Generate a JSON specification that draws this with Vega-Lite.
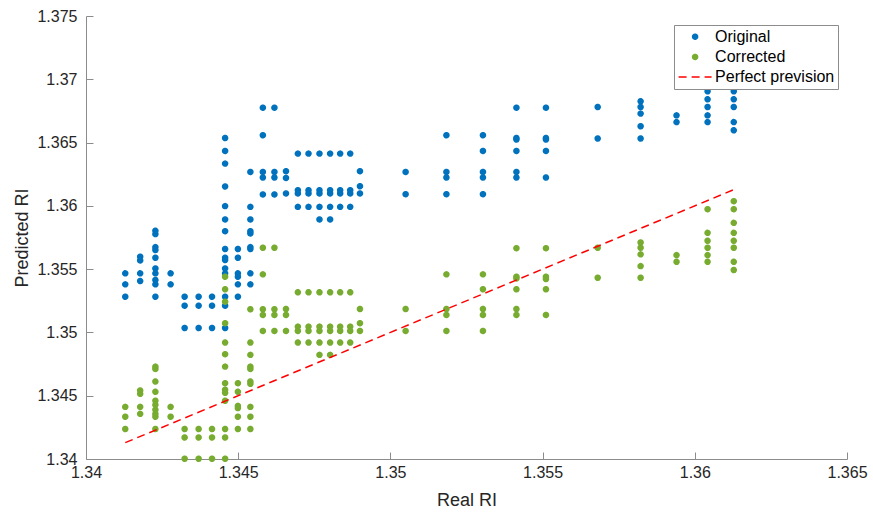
{
  "$schema": "https://vega.github.io/schema/vega-lite/v6.json",
  "autosize": "none",
  "width": 761,
  "height": 443,
  "padding": {"left": 86, "top": 16, "right": 26, "bottom": 57},
  "background": "white",
  "config": {
    "view": {"stroke": null},
    "font": "Liberation Sans",
    "axis": {
      "grid": false,
      "domainColor": "#8c8c8c",
      "tickColor": "#8c8c8c",
      "tickSize": -7,
      "labelColor": "#262626",
      "titleColor": "#262626",
      "labelFontSize": 16,
      "titleFontSize": 18,
      "titleFontWeight": "normal",
      "labelFont": "Liberation Sans",
      "titleFont": "Liberation Sans"
    },
    "legend": {
      "orient": "top-right",
      "offset": 9,
      "padding": 3.7,
      "fillColor": "white",
      "strokeColor": "#8c8c8c",
      "labelFontSize": 16,
      "labelColor": "#000000",
      "labelFont": "Liberation Sans",
      "symbolSize": 25,
      "symbolOffset": 9.4,
      "labelOffset": 12,
      "rowPadding": 4.2,
      "symbolStrokeWidth": 1.5
    }
  },
  "datasets": {
    "pts": [
      {"real":1.34129,"pred":1.35467,"set":"Original"},{"real":1.34129,"pred":1.35380,"set":"Original"},{"real":1.34129,"pred":1.35282,"set":"Original"},
      {"real":1.34178,"pred":1.35598,"set":"Original"},{"real":1.34178,"pred":1.35569,"set":"Original"},{"real":1.34178,"pred":1.35467,"set":"Original"},{"real":1.34178,"pred":1.35406,"set":"Original"},
      {"real":1.34228,"pred":1.35803,"set":"Original"},{"real":1.34228,"pred":1.35777,"set":"Original"},{"real":1.34228,"pred":1.35674,"set":"Original"},{"real":1.34228,"pred":1.35651,"set":"Original"},{"real":1.34228,"pred":1.35590,"set":"Original"},{"real":1.34228,"pred":1.35506,"set":"Original"},{"real":1.34228,"pred":1.35467,"set":"Original"},{"real":1.34228,"pred":1.35414,"set":"Original"},{"real":1.34228,"pred":1.35380,"set":"Original"},{"real":1.34228,"pred":1.35282,"set":"Original"},
      {"real":1.34278,"pred":1.35467,"set":"Original"},{"real":1.34278,"pred":1.35380,"set":"Original"},
      {"real":1.34324,"pred":1.35282,"set":"Original"},{"real":1.34324,"pred":1.35211,"set":"Original"},{"real":1.34324,"pred":1.35035,"set":"Original"},
      {"real":1.34370,"pred":1.35282,"set":"Original"},{"real":1.34370,"pred":1.35211,"set":"Original"},{"real":1.34370,"pred":1.35035,"set":"Original"},
      {"real":1.34414,"pred":1.35282,"set":"Original"},{"real":1.34414,"pred":1.35211,"set":"Original"},{"real":1.34414,"pred":1.35035,"set":"Original"},
      {"real":1.34457,"pred":1.36536,"set":"Original"},{"real":1.34457,"pred":1.36434,"set":"Original"},{"real":1.34457,"pred":1.36334,"set":"Original"},{"real":1.34457,"pred":1.36153,"set":"Original"},{"real":1.34457,"pred":1.35998,"set":"Original"},{"real":1.34457,"pred":1.35893,"set":"Original"},{"real":1.34457,"pred":1.35800,"set":"Original"},{"real":1.34457,"pred":1.35659,"set":"Original"},{"real":1.34457,"pred":1.35590,"set":"Original"},{"real":1.34457,"pred":1.35572,"set":"Original"},{"real":1.34457,"pred":1.35506,"set":"Original"},{"real":1.34457,"pred":1.35467,"set":"Original"},{"real":1.34457,"pred":1.35282,"set":"Original"},{"real":1.34457,"pred":1.35211,"set":"Original"},{"real":1.34457,"pred":1.35035,"set":"Original"},
      {"real":1.34499,"pred":1.35659,"set":"Original"},{"real":1.34499,"pred":1.35590,"set":"Original"},{"real":1.34499,"pred":1.35467,"set":"Original"},{"real":1.34499,"pred":1.35440,"set":"Original"},{"real":1.34499,"pred":1.35380,"set":"Original"},{"real":1.34499,"pred":1.35282,"set":"Original"},
      {"real":1.34540,"pred":1.36268,"set":"Original"},{"real":1.34540,"pred":1.35992,"set":"Original"},{"real":1.34540,"pred":1.35893,"set":"Original"},{"real":1.34540,"pred":1.35800,"set":"Original"},{"real":1.34540,"pred":1.35782,"set":"Original"},{"real":1.34540,"pred":1.35674,"set":"Original"},{"real":1.34540,"pred":1.35659,"set":"Original"},{"real":1.34540,"pred":1.35467,"set":"Original"},{"real":1.34540,"pred":1.35380,"set":"Original"},
      {"real":1.34581,"pred":1.36776,"set":"Original"},{"real":1.34581,"pred":1.36558,"set":"Original"},{"real":1.34581,"pred":1.36268,"set":"Original"},{"real":1.34581,"pred":1.36224,"set":"Original"},{"real":1.34581,"pred":1.36090,"set":"Original"},
      {"real":1.34619,"pred":1.36776,"set":"Original"},{"real":1.34619,"pred":1.36268,"set":"Original"},{"real":1.34619,"pred":1.36224,"set":"Original"},{"real":1.34619,"pred":1.36090,"set":"Original"},
      {"real":1.34657,"pred":1.36274,"set":"Original"},{"real":1.34657,"pred":1.36221,"set":"Original"},{"real":1.34657,"pred":1.36098,"set":"Original"},
      {"real":1.34696,"pred":1.36413,"set":"Original"},{"real":1.34696,"pred":1.36124,"set":"Original"},{"real":1.34696,"pred":1.36098,"set":"Original"},{"real":1.34696,"pred":1.35992,"set":"Original"},
      {"real":1.34731,"pred":1.36413,"set":"Original"},{"real":1.34731,"pred":1.36124,"set":"Original"},{"real":1.34731,"pred":1.36098,"set":"Original"},{"real":1.34731,"pred":1.35992,"set":"Original"},
      {"real":1.34767,"pred":1.36413,"set":"Original"},{"real":1.34767,"pred":1.36124,"set":"Original"},{"real":1.34767,"pred":1.36098,"set":"Original"},{"real":1.34767,"pred":1.35992,"set":"Original"},{"real":1.34767,"pred":1.35893,"set":"Original"},
      {"real":1.34802,"pred":1.36413,"set":"Original"},{"real":1.34802,"pred":1.36124,"set":"Original"},{"real":1.34802,"pred":1.36098,"set":"Original"},{"real":1.34802,"pred":1.35992,"set":"Original"},{"real":1.34802,"pred":1.35893,"set":"Original"},
      {"real":1.34835,"pred":1.36413,"set":"Original"},{"real":1.34835,"pred":1.36124,"set":"Original"},{"real":1.34835,"pred":1.36098,"set":"Original"},{"real":1.34835,"pred":1.35992,"set":"Original"},
      {"real":1.34868,"pred":1.36413,"set":"Original"},{"real":1.34868,"pred":1.36124,"set":"Original"},{"real":1.34868,"pred":1.36098,"set":"Original"},{"real":1.34868,"pred":1.35992,"set":"Original"},
      {"real":1.34900,"pred":1.36274,"set":"Original"},{"real":1.34900,"pred":1.36155,"set":"Original"},{"real":1.34900,"pred":1.36098,"set":"Original"},
      {"real":1.35050,"pred":1.36268,"set":"Original"},{"real":1.35050,"pred":1.36092,"set":"Original"},
      {"real":1.35184,"pred":1.36558,"set":"Original"},{"real":1.35184,"pred":1.36268,"set":"Original"},{"real":1.35184,"pred":1.36224,"set":"Original"},{"real":1.35184,"pred":1.36092,"set":"Original"},
      {"real":1.35304,"pred":1.36558,"set":"Original"},{"real":1.35304,"pred":1.36434,"set":"Original"},{"real":1.35304,"pred":1.36268,"set":"Original"},{"real":1.35304,"pred":1.36224,"set":"Original"},{"real":1.35304,"pred":1.36092,"set":"Original"},
      {"real":1.35414,"pred":1.36776,"set":"Original"},{"real":1.35414,"pred":1.36536,"set":"Original"},{"real":1.35414,"pred":1.36524,"set":"Original"},{"real":1.35414,"pred":1.36434,"set":"Original"},{"real":1.35414,"pred":1.36268,"set":"Original"},{"real":1.35414,"pred":1.36224,"set":"Original"},
      {"real":1.35511,"pred":1.36776,"set":"Original"},{"real":1.35511,"pred":1.36536,"set":"Original"},{"real":1.35511,"pred":1.36524,"set":"Original"},{"real":1.35511,"pred":1.36434,"set":"Original"},{"real":1.35511,"pred":1.36224,"set":"Original"},
      {"real":1.35681,"pred":1.36781,"set":"Original"},{"real":1.35681,"pred":1.36532,"set":"Original"},
      {"real":1.35822,"pred":1.36826,"set":"Original"},{"real":1.35822,"pred":1.36781,"set":"Original"},{"real":1.35822,"pred":1.36729,"set":"Original"},{"real":1.35822,"pred":1.36629,"set":"Original"},{"real":1.35822,"pred":1.36532,"set":"Original"},
      {"real":1.35940,"pred":1.36715,"set":"Original"},{"real":1.35940,"pred":1.36662,"set":"Original"},
      {"real":1.36042,"pred":1.36905,"set":"Original"},{"real":1.36042,"pred":1.36842,"set":"Original"},{"real":1.36042,"pred":1.36781,"set":"Original"},{"real":1.36042,"pred":1.36715,"set":"Original"},{"real":1.36042,"pred":1.36662,"set":"Original"},
      {"real":1.36128,"pred":1.36905,"set":"Original"},{"real":1.36128,"pred":1.36842,"set":"Original"},{"real":1.36128,"pred":1.36781,"set":"Original"},{"real":1.36128,"pred":1.36662,"set":"Original"},{"real":1.36128,"pred":1.36597,"set":"Original"},

      {"real":1.34129,"pred":1.34412,"set":"Corrected"},{"real":1.34129,"pred":1.34334,"set":"Corrected"},{"real":1.34129,"pred":1.34237,"set":"Corrected"},
      {"real":1.34178,"pred":1.34541,"set":"Corrected"},{"real":1.34178,"pred":1.34515,"set":"Corrected"},{"real":1.34178,"pred":1.34412,"set":"Corrected"},{"real":1.34178,"pred":1.34357,"set":"Corrected"},
      {"real":1.34228,"pred":1.34730,"set":"Corrected"},{"real":1.34228,"pred":1.34712,"set":"Corrected"},{"real":1.34228,"pred":1.34612,"set":"Corrected"},{"real":1.34228,"pred":1.34531,"set":"Corrected"},{"real":1.34228,"pred":1.34460,"set":"Corrected"},{"real":1.34228,"pred":1.34428,"set":"Corrected"},{"real":1.34228,"pred":1.34389,"set":"Corrected"},{"real":1.34228,"pred":1.34357,"set":"Corrected"},{"real":1.34228,"pred":1.34334,"set":"Corrected"},{"real":1.34228,"pred":1.34237,"set":"Corrected"},
      {"real":1.34278,"pred":1.34412,"set":"Corrected"},{"real":1.34278,"pred":1.34334,"set":"Corrected"},
      {"real":1.34324,"pred":1.34237,"set":"Corrected"},{"real":1.34324,"pred":1.34170,"set":"Corrected"},{"real":1.34324,"pred":1.34002,"set":"Corrected"},
      {"real":1.34370,"pred":1.34237,"set":"Corrected"},{"real":1.34370,"pred":1.34170,"set":"Corrected"},{"real":1.34370,"pred":1.34002,"set":"Corrected"},
      {"real":1.34414,"pred":1.34237,"set":"Corrected"},{"real":1.34414,"pred":1.34170,"set":"Corrected"},{"real":1.34414,"pred":1.34002,"set":"Corrected"},
      {"real":1.34457,"pred":1.35440,"set":"Corrected"},{"real":1.34457,"pred":1.35341,"set":"Corrected"},{"real":1.34457,"pred":1.35243,"set":"Corrected"},{"real":1.34457,"pred":1.35073,"set":"Corrected"},{"real":1.34457,"pred":1.34920,"set":"Corrected"},{"real":1.34457,"pred":1.34828,"set":"Corrected"},{"real":1.34457,"pred":1.34730,"set":"Corrected"},{"real":1.34457,"pred":1.34599,"set":"Corrected"},{"real":1.34457,"pred":1.34547,"set":"Corrected"},{"real":1.34457,"pred":1.34523,"set":"Corrected"},{"real":1.34457,"pred":1.34460,"set":"Corrected"},{"real":1.34457,"pred":1.34237,"set":"Corrected"},{"real":1.34457,"pred":1.34170,"set":"Corrected"},{"real":1.34457,"pred":1.34002,"set":"Corrected"},
      {"real":1.34499,"pred":1.34599,"set":"Corrected"},{"real":1.34499,"pred":1.34531,"set":"Corrected"},{"real":1.34499,"pred":1.34420,"set":"Corrected"},{"real":1.34499,"pred":1.34402,"set":"Corrected"},{"real":1.34499,"pred":1.34334,"set":"Corrected"},{"real":1.34499,"pred":1.34237,"set":"Corrected"},
      {"real":1.34540,"pred":1.35183,"set":"Corrected"},{"real":1.34540,"pred":1.34920,"set":"Corrected"},{"real":1.34540,"pred":1.34823,"set":"Corrected"},{"real":1.34540,"pred":1.34730,"set":"Corrected"},{"real":1.34540,"pred":1.34712,"set":"Corrected"},{"real":1.34540,"pred":1.34612,"set":"Corrected"},{"real":1.34540,"pred":1.34594,"set":"Corrected"},{"real":1.34540,"pred":1.34412,"set":"Corrected"},{"real":1.34540,"pred":1.34334,"set":"Corrected"},{"real":1.34540,"pred":1.34237,"set":"Corrected"},
      {"real":1.34581,"pred":1.35669,"set":"Corrected"},{"real":1.34581,"pred":1.35459,"set":"Corrected"},{"real":1.34581,"pred":1.35183,"set":"Corrected"},{"real":1.34581,"pred":1.35138,"set":"Corrected"},{"real":1.34581,"pred":1.35012,"set":"Corrected"},
      {"real":1.34619,"pred":1.35669,"set":"Corrected"},{"real":1.34619,"pred":1.35183,"set":"Corrected"},{"real":1.34619,"pred":1.35138,"set":"Corrected"},{"real":1.34619,"pred":1.35012,"set":"Corrected"},
      {"real":1.34657,"pred":1.35185,"set":"Corrected"},{"real":1.34657,"pred":1.35138,"set":"Corrected"},{"real":1.34657,"pred":1.35012,"set":"Corrected"},
      {"real":1.34696,"pred":1.35317,"set":"Corrected"},{"real":1.34696,"pred":1.35046,"set":"Corrected"},{"real":1.34696,"pred":1.35012,"set":"Corrected"},{"real":1.34696,"pred":1.34920,"set":"Corrected"},
      {"real":1.34731,"pred":1.35317,"set":"Corrected"},{"real":1.34731,"pred":1.35046,"set":"Corrected"},{"real":1.34731,"pred":1.35012,"set":"Corrected"},{"real":1.34731,"pred":1.34920,"set":"Corrected"},
      {"real":1.34767,"pred":1.35317,"set":"Corrected"},{"real":1.34767,"pred":1.35046,"set":"Corrected"},{"real":1.34767,"pred":1.35012,"set":"Corrected"},{"real":1.34767,"pred":1.34920,"set":"Corrected"},{"real":1.34767,"pred":1.34823,"set":"Corrected"},
      {"real":1.34802,"pred":1.35317,"set":"Corrected"},{"real":1.34802,"pred":1.35046,"set":"Corrected"},{"real":1.34802,"pred":1.35012,"set":"Corrected"},{"real":1.34802,"pred":1.34920,"set":"Corrected"},{"real":1.34802,"pred":1.34823,"set":"Corrected"},
      {"real":1.34835,"pred":1.35317,"set":"Corrected"},{"real":1.34835,"pred":1.35046,"set":"Corrected"},{"real":1.34835,"pred":1.35012,"set":"Corrected"},{"real":1.34835,"pred":1.34920,"set":"Corrected"},
      {"real":1.34868,"pred":1.35317,"set":"Corrected"},{"real":1.34868,"pred":1.35046,"set":"Corrected"},{"real":1.34868,"pred":1.35012,"set":"Corrected"},{"real":1.34868,"pred":1.34920,"set":"Corrected"},
      {"real":1.34900,"pred":1.35185,"set":"Corrected"},{"real":1.34900,"pred":1.35073,"set":"Corrected"},{"real":1.34900,"pred":1.35012,"set":"Corrected"},
      {"real":1.35050,"pred":1.35185,"set":"Corrected"},{"real":1.35050,"pred":1.35012,"set":"Corrected"},
      {"real":1.35184,"pred":1.35459,"set":"Corrected"},{"real":1.35184,"pred":1.35185,"set":"Corrected"},{"real":1.35184,"pred":1.35138,"set":"Corrected"},{"real":1.35184,"pred":1.35012,"set":"Corrected"},
      {"real":1.35304,"pred":1.35459,"set":"Corrected"},{"real":1.35304,"pred":1.35341,"set":"Corrected"},{"real":1.35304,"pred":1.35185,"set":"Corrected"},{"real":1.35304,"pred":1.35138,"set":"Corrected"},{"real":1.35304,"pred":1.35012,"set":"Corrected"},
      {"real":1.35414,"pred":1.35666,"set":"Corrected"},{"real":1.35414,"pred":1.35440,"set":"Corrected"},{"real":1.35414,"pred":1.35427,"set":"Corrected"},{"real":1.35414,"pred":1.35341,"set":"Corrected"},{"real":1.35414,"pred":1.35185,"set":"Corrected"},{"real":1.35414,"pred":1.35138,"set":"Corrected"},
      {"real":1.35511,"pred":1.35666,"set":"Corrected"},{"real":1.35511,"pred":1.35440,"set":"Corrected"},{"real":1.35511,"pred":1.35422,"set":"Corrected"},{"real":1.35511,"pred":1.35341,"set":"Corrected"},{"real":1.35511,"pred":1.35138,"set":"Corrected"},
      {"real":1.35681,"pred":1.35669,"set":"Corrected"},{"real":1.35681,"pred":1.35432,"set":"Corrected"},
      {"real":1.35822,"pred":1.35711,"set":"Corrected"},{"real":1.35822,"pred":1.35669,"set":"Corrected"},{"real":1.35822,"pred":1.35617,"set":"Corrected"},{"real":1.35822,"pred":1.35524,"set":"Corrected"},{"real":1.35822,"pred":1.35432,"set":"Corrected"},
      {"real":1.35940,"pred":1.35611,"set":"Corrected"},{"real":1.35940,"pred":1.35558,"set":"Corrected"},
      {"real":1.36042,"pred":1.35974,"set":"Corrected"},{"real":1.36042,"pred":1.35787,"set":"Corrected"},{"real":1.36042,"pred":1.35724,"set":"Corrected"},{"real":1.36042,"pred":1.35669,"set":"Corrected"},{"real":1.36042,"pred":1.35611,"set":"Corrected"},{"real":1.36042,"pred":1.35558,"set":"Corrected"},
      {"real":1.36128,"pred":1.36037,"set":"Corrected"},{"real":1.36128,"pred":1.35974,"set":"Corrected"},{"real":1.36128,"pred":1.35866,"set":"Corrected"},{"real":1.36128,"pred":1.35787,"set":"Corrected"},{"real":1.36128,"pred":1.35724,"set":"Corrected"},{"real":1.36128,"pred":1.35669,"set":"Corrected"},{"real":1.36128,"pred":1.35558,"set":"Corrected"},{"real":1.36128,"pred":1.35493,"set":"Corrected"}
    ],
    "ideal": [
      {"real":1.34129,"pred":1.34129},
      {"real":1.36128,"pred":1.36128}
    ]
  },
  "layer": [
    {
      "data": {"name": "pts"},
      "mark": {"type": "point", "filled": true, "size": 25, "opacity": 1, "strokeWidth": 1.5},
      "encoding": {
        "x": {
          "field": "real", "type": "quantitative",
          "scale": {"domain": [1.34, 1.365], "nice": false, "zero": false},
          "axis": {"title": "Real RI", "values": [1.34, 1.345, 1.35, 1.355, 1.36, 1.365], "format": ".4~f", "labelPadding": 12, "titlePadding": 11, "labelFlush": false}
        },
        "y": {
          "field": "pred", "type": "quantitative",
          "scale": {"domain": [1.34, 1.375], "nice": false, "zero": false},
          "axis": {"title": "Predicted RI", "values": [1.34, 1.345, 1.35, 1.355, 1.36, 1.365, 1.37, 1.375], "format": ".4~f", "labelPadding": 16, "titlePadding": 5, "labelFlush": false}
        },
        "fill": {
          "field": "set", "type": "nominal",
          "scale": {"domain": ["Original", "Corrected", "Perfect prevision"], "range": ["#0072BD", "#77AC30", "#FF0000"]},
          "legend": {"title": null}
        },
        "stroke": {
          "field": "set", "type": "nominal",
          "scale": {"domain": ["Original", "Corrected", "Perfect prevision"], "range": ["#0072BD", "#77AC30", "#FF0000"]},
          "legend": {"title": null}
        },
        "shape": {
          "field": "set", "type": "nominal",
          "scale": {"domain": ["Original", "Corrected", "Perfect prevision"], "range": ["circle", "circle", "M-6.6,0H6.6"]},
          "legend": {"title": null}
        },
        "strokeDash": {
          "field": "set", "type": "nominal",
          "scale": {"domain": ["Original", "Corrected", "Perfect prevision"], "range": [[1, 0], [1, 0], [8, 5]]},
          "legend": {"title": null}
        }
      }
    },
    {
      "data": {"name": "ideal"},
      "mark": {"type": "line", "color": "#FF0000", "strokeDash": [8, 5], "strokeWidth": 1.5},
      "encoding": {
        "x": {"field": "real", "type": "quantitative"},
        "y": {"field": "pred", "type": "quantitative"}
      }
    }
  ]
}
